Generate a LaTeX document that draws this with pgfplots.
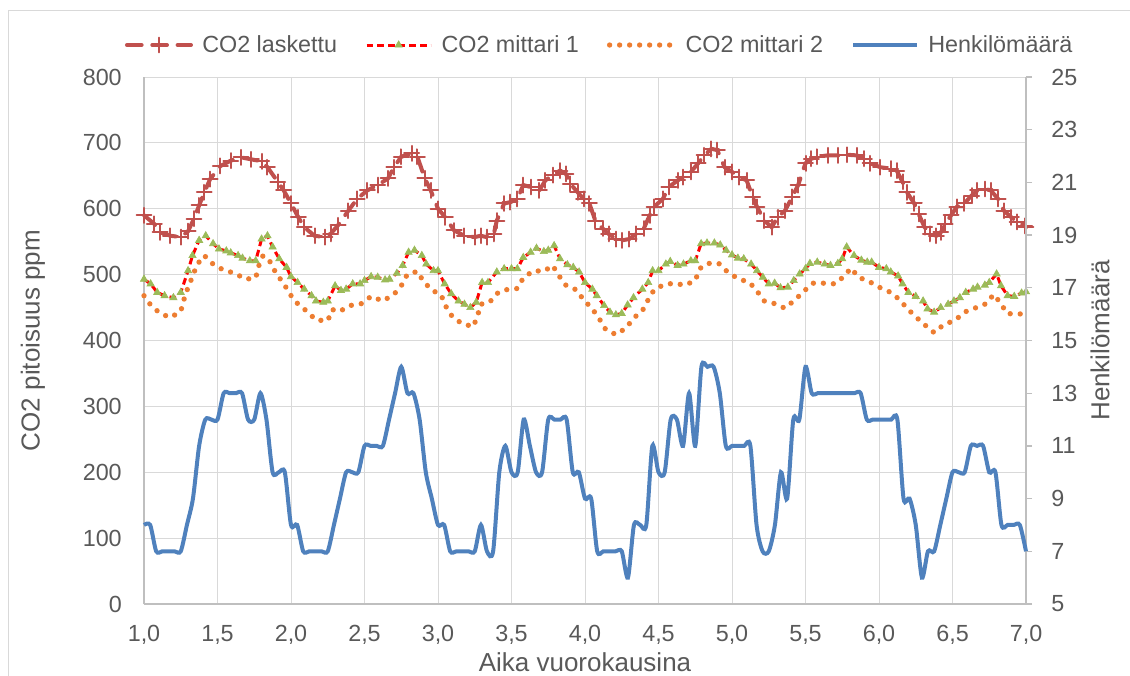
\documentclass[border=0pt]{standalone}
\usepackage{fontspec}
\setmainfont{Liberation Sans}
\usepackage{pgfplots}
\usepackage{pgfplotstable}
\pgfplotsset{compat=1.18}

\definecolor{laskred}{HTML}{C0504D}
\definecolor{mitgreen}{HTML}{9BBB59}
\definecolor{mitorange}{HTML}{ED7D31}
\definecolor{henkblue}{HTML}{4F81BD}
\definecolor{gridgray}{HTML}{D9D9D9}
\definecolor{axisgray}{HTML}{BFBFBF}
\definecolor{labelgray}{HTML}{595959}

\newcommand{\tickfont}{\fontsize{17.5}{21}\selectfont}
\newcommand{\labelfont}{\fontsize{19.5}{23}\selectfont}

% CO2, laskettu (ppm)
\pgfplotstableread{
x y
1.00 590
1.07 577
1.11 564
1.18 559
1.25 557
1.30 566
1.34 585
1.375 605
1.41 625
1.45 645
1.52 665
1.59 673
1.66 678
1.73 675
1.80 672
1.84 663
1.91 641
1.95 628
2.00 608
2.05 587
2.09 572
2.16 559
2.23 557
2.27 562
2.32 575
2.39 597
2.45 615
2.52 628
2.59 636
2.66 646
2.70 663
2.75 679
2.82 684
2.86 679
2.91 646
2.95 628
3.00 600
3.05 587
3.11 567
3.18 559
3.25 557
3.29 559
3.33 557
3.38 562
3.40 582
3.45 608
3.49 610
3.54 615
3.58 636
3.63 633
3.69 628
3.73 643
3.78 651
3.83 658
3.87 653
3.90 638
3.95 625
3.99 615
4.03 608
4.07 582
4.12 570
4.16 562
4.21 554
4.25 552
4.30 554
4.35 562
4.40 570
4.44 590
4.47 603
4.53 615
4.57 633
4.63 643
4.67 648
4.72 656
4.77 669
4.81 681
4.86 691
4.90 689
4.95 663
5.00 656
5.05 648
5.10 643
5.14 618
5.17 603
5.22 582
5.27 572
5.31 587
5.36 597
5.41 618
5.45 636
5.50 669
5.54 676
5.58 679
5.65 681
5.72 681
5.78 682
5.85 681
5.90 676
5.94 669
6.01 663
6.08 661
6.12 658
6.16 641
6.19 625
6.24 608
6.27 592
6.31 572
6.35 562
6.39 559
6.42 564
6.45 577
6.49 590
6.53 603
6.58 608
6.63 620
6.67 628
6.72 630
6.76 628
6.81 615
6.85 597
6.90 587
6.94 580
6.99 574
7.00 572
}\laskettu

% CO2, mittari 1 (ppm)
\pgfplotstableread{
x y
1.00 493
1.045 486
1.09 473
1.14 468
1.20 465
1.25 473
1.30 506
1.33 529
1.375 552
1.42 559
1.47 547
1.51 539
1.56 536
1.59 533
1.64 529
1.67 525
1.72 521
1.76 521
1.80 554
1.84 559
1.875 542
1.92 524
1.97 511
2.00 497
2.045 488
2.09 478
2.14 468
2.17 460
2.22 458
2.25 460
2.30 483
2.34 476
2.375 478
2.42 486
2.47 486
2.50 491
2.545 497
2.59 496
2.64 492
2.67 493
2.72 502
2.76 514
2.80 534
2.84 537
2.89 529
2.92 516
2.97 506
3.00 506
3.045 486
3.09 471
3.14 460
3.18 455
3.22 450
3.26 458
3.30 488
3.34 488
3.40 504
3.45 509
3.50 509
3.54 509
3.58 526
3.63 534
3.67 540
3.72 535
3.75 537
3.79 544
3.83 524
3.88 515
3.92 511
3.96 504
4.00 488
4.05 478
4.08 468
4.13 453
4.17 443
4.21 439
4.25 441
4.29 454
4.33 465
4.39 478
4.43 488
4.46 506
4.50 506
4.55 516
4.58 520
4.63 514
4.67 516
4.72 521
4.75 521
4.79 547
4.83 548
4.88 548
4.92 545
4.96 537
5.00 530
5.04 525
5.08 524
5.13 516
5.17 506
5.21 496
5.25 486
5.29 487
5.33 480
5.38 481
5.42 491
5.46 501
5.50 509
5.53 517
5.58 519
5.63 516
5.67 514
5.72 517
5.75 524
5.78 542
5.83 529
5.88 522
5.92 519
5.95 519
6.00 511
6.05 509
6.08 504
6.13 498
6.16 486
6.20 473
6.25 467
6.30 460
6.33 448
6.375 443
6.42 450
6.47 455
6.51 460
6.55 465
6.59 473
6.64 478
6.67 481
6.72 484
6.75 488
6.80 501
6.83 483
6.875 468
6.92 467
6.97 472
7.00 474
}\mittariA

% CO2, mittari 2 (ppm)
\pgfplotstableread{
x y
1.00 468
1.045 454
1.11 441
1.18 435
1.25 444
1.27 461
1.30 481
1.33 497
1.36 515
1.41 529
1.47 516
1.54 507
1.62 502
1.69 493
1.76 495
1.78 513
1.81 529
1.86 519
1.90 501
1.95 487
1.99 471
2.045 456
2.11 444
2.17 431
2.25 430
2.28 447
2.33 444
2.40 453
2.48 456
2.545 467
2.625 460
2.70 470
2.75 483
2.79 500
2.86 505
2.90 490
2.96 476
3.02 470
3.05 453
3.095 437
3.16 426
3.24 421
3.27 438
3.29 455
3.35 458
3.41 473
3.46 477
3.54 479
3.58 495
3.65 506
3.72 505
3.78 514
3.82 499
3.87 484
3.94 477
3.99 462
4.05 448
4.10 432
4.14 417
4.21 409
4.28 419
4.33 434
4.39 445
4.43 462
4.47 477
4.53 484
4.60 487
4.68 484
4.75 491
4.78 509
4.83 517
4.91 517
4.97 504
5.04 494
5.12 488
5.17 475
5.22 460
5.29 456
5.36 449
5.43 462
5.49 475
5.55 487
5.63 487
5.70 486
5.76 497
5.81 510
5.86 496
5.93 490
6.00 481
6.08 473
6.14 462
6.19 449
6.25 436
6.31 424
6.375 412
6.44 424
6.52 431
6.58 443
6.65 449
6.73 456
6.78 470
6.83 456
6.87 441
6.94 440
7.00 441
}\mittariB

% Henkilömäärä
\pgfplotstableread{
x y
1.000 8
1.042 8
1.083 7
1.125 7
1.167 7
1.208 7
1.250 7
1.292 8
1.333 9
1.375 11
1.417 12
1.458 12
1.500 12
1.542 13
1.583 13
1.625 13
1.667 13
1.708 12
1.750 12
1.792 13
1.833 12
1.875 10
1.917 10
1.958 10
2.000 8
2.042 8
2.083 7
2.125 7
2.167 7
2.208 7
2.250 7
2.292 8
2.333 9
2.375 10
2.417 10
2.458 10
2.500 11
2.542 11
2.583 11
2.625 11
2.667 12
2.708 13
2.750 14
2.792 13
2.833 13
2.875 12
2.917 10
2.958 9
3.000 8
3.042 8
3.083 7
3.125 7
3.167 7
3.208 7
3.250 7
3.292 8
3.333 7
3.375 7
3.417 10
3.458 11
3.500 10
3.542 10
3.583 12
3.625 11
3.667 10
3.708 10
3.750 12
3.792 12
3.833 12
3.875 12
3.917 10
3.958 10
4.000 9
4.042 9
4.083 7
4.125 7
4.167 7
4.208 7
4.250 7
4.292 6
4.333 8
4.375 8
4.417 8
4.458 11
4.500 10
4.542 10
4.583 12
4.625 12
4.667 11
4.708 13
4.750 11
4.792 14
4.833 14
4.875 14
4.917 13
4.958 11
5.000 11
5.042 11
5.083 11
5.125 11
5.167 8
5.208 7
5.250 7
5.292 8
5.333 10
5.375 9
5.417 12
5.458 12
5.500 14
5.542 13
5.583 13
5.625 13
5.667 13
5.708 13
5.750 13
5.792 13
5.833 13
5.875 13
5.917 12
5.958 12
6.000 12
6.042 12
6.083 12
6.125 12
6.167 9
6.208 9
6.250 8
6.292 6
6.333 7
6.375 7
6.417 8
6.458 9
6.500 10
6.542 10
6.583 10
6.625 11
6.667 11
6.708 11
6.750 10
6.792 10
6.833 8
6.875 8
6.917 8
6.958 8
7.000 7
}\henkilot

\pgfplotsset{
  chartbase/.style={
    at={(108pt,53.25pt)}, anchor=south west,
    scale only axis, width=661.5pt, height=395.25pt,
    xmin=1, xmax=7,
    axis line style={axisgray, line width=1pt},
    tick label style={font=\tickfont, text=labelgray},
    /pgf/number format/assume math mode=true,
    clip=false,
  },
  legend image code/.code={%
    \draw[mark repeat=2,mark phase=2]
      plot coordinates {(0pt,0pt) (24pt,0pt) (48pt,0pt)};},
}

\begin{document}
\begin{tikzpicture}
% primary axis: CO2 concentration
\begin{axis}[
  chartbase,
  ymin=0, ymax=800,
  xtick={1,1.5,...,7},
  xticklabels={{1,0},{1,5},{2,0},{2,5},{3,0},{3,5},{4,0},{4,5},{5,0},{5,5},{6,0},{6,5},{7,0}},
  ytick={0,100,...,800},
  grid=major, grid style={gridgray, line width=0.75pt},
  axis x line*=bottom, axis y line*=left,
  major tick length=0pt,
  xticklabel style={anchor=base, inner sep=0pt, yshift=-28pt},
  yticklabel style={anchor=east, inner sep=0pt, xshift=-16.5pt},
  every axis x label/.style={at={(axis description cs:0.5,-0.110)}, anchor=center,
    font=\labelfont, text=labelgray},
  every axis y label/.style={at={(axis description cs:-0.1259,0.5)}, anchor=center,
    rotate=90, font=\labelfont, text=labelgray},
  xlabel={Aika vuorokausina},
  ylabel={CO2 pitoisuus ppm},
  legend columns=4,
  legend cell align=left,
  legend style={at={(axis description cs:0.517,1.0607)}, anchor=center,
    draw=none, fill=none, font=\tickfont, text=labelgray,
    /tikz/every odd column/.append style={column sep=5pt},
    /tikz/every even column/.append style={column sep=19pt}},
]
\addplot[laskred, line width=3pt, line cap=round, dash pattern=on 11pt off 8pt,
  mark=+, mark size=5.6pt, mark options={solid, line width=1.5pt}]
  table {\laskettu};
\addlegendentry{CO2 laskettu}
\addplot[red, line width=2.25pt, dash pattern=on 5pt off 3pt,
  mark=triangle*, mark size=3.1pt,
  mark options={solid, draw=mitgreen, fill=mitgreen, line width=0.5pt}]
  table {\mittariA};
\addlegendentry{CO2 mittari 1}
\addplot[mitorange, line width=4pt, line cap=round, dash pattern=on 0pt off 7.5pt]
  table {\mittariB};
\addlegendentry{CO2 mittari 2}
\addlegendimage{henkblue, line width=3pt}
\addlegendentry{Henkilömäärä}
\end{axis}

% secondary axis: number of people
\begin{axis}[
  chartbase,
  ymin=5, ymax=25,
  ytick={5,7,...,25},
  axis x line=none,
  axis y line*=right,
  tick style={axisgray, line width=1pt},
  major tick length=4.5pt, tick align=outside,
  yticklabel style={anchor=west, inner sep=0pt, xshift=14.25pt},
  every axis y label/.style={at={(axis description cs:1.0839,0.5)}, anchor=center,
    rotate=90, font=\labelfont, text=labelgray},
  ylabel={Henkilömäärä},
]
\addplot[henkblue, line width=3pt, smooth, tension=0.45] table {\henkilot};
\end{axis}

% chart area frame
\draw[gridgray, line width=0.75pt] (6pt,-2pt) -- (6pt,498pt) -- (850pt,498pt);

\pgfresetboundingbox
\path[use as bounding box] (0,0) rectangle (847.5pt,506.25pt);
\end{tikzpicture}
\end{document}
